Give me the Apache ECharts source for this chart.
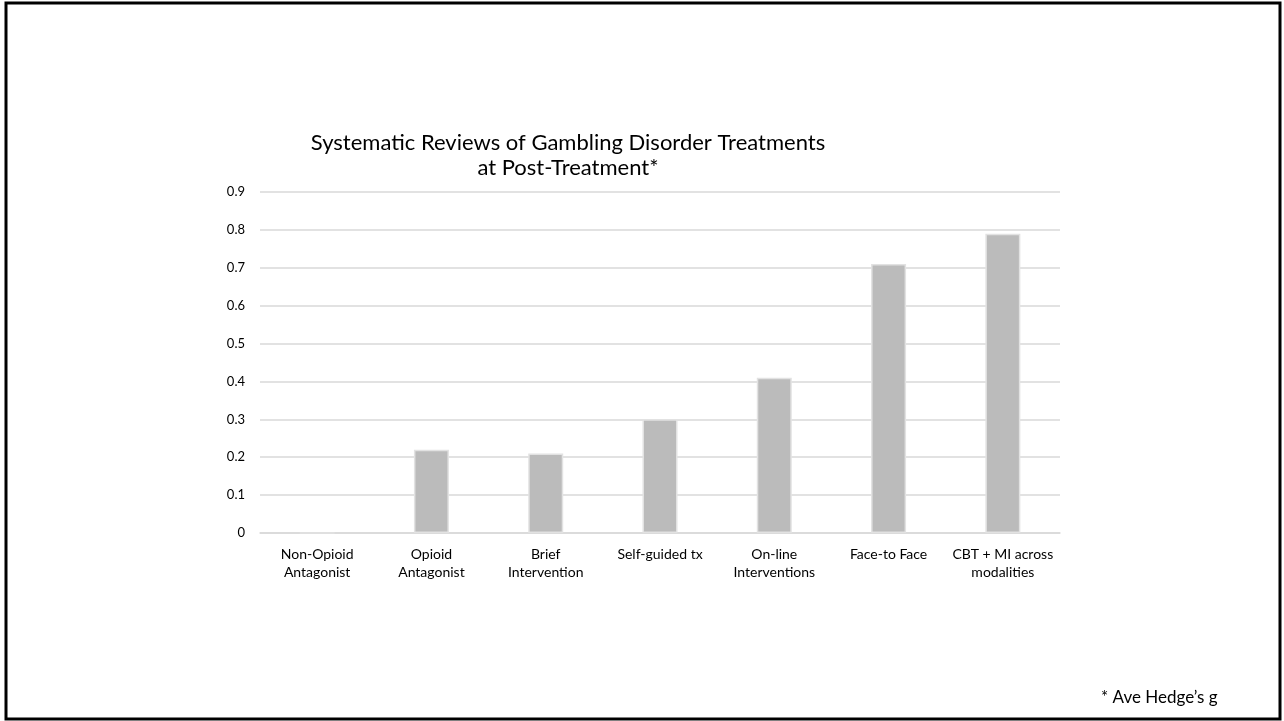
<!DOCTYPE html>
<html>
<head>
<meta charset="utf-8">
<style>
  html, body { margin: 0; padding: 0; background: #ffffff; }
  #chart { width: 1284px; height: 721px; }
</style>
<script src="https://cdn.jsdelivr.net/npm/echarts@6/dist/echarts.min.js"></script>
</head>
<body>
<div id="chart"></div>
<script>
// Treatment categories (x axis)
const categories = [
  'Non-Opioid\nAntagonist',
  'Opioid\nAntagonist',
  'Brief\nIntervention',
  'Self-guided tx',
  'On-line\nInterventions',
  'Face-to Face',
  'CBT + MI across\nmodalities'
];

// Average Hedge's g at post-treatment
const effectSizes = [0, 0.22, 0.21, 0.30, 0.41, 0.71, 0.79];

// Y axis range
const yMin = 0;
const yMax = 0.9;
const yStep = 0.1;

const titleLines = ['Systematic Reviews of Gambling Disorder Treatments', 'at Post-Treatment*'];
const footnote = '* Ave Hedge\u2019s g';

const FONT = 'Lato, "Open Sans", sans-serif';

const chart = echarts.init(document.getElementById('chart'), null, { renderer: 'canvas' });

chart.setOption({
  backgroundColor: '#ffffff',
  animation: false,
  title: [
    {
      text: titleLines.join('\n'),
      left: 563,
      top: 125,
      textAlign: 'center',
      textStyle: {
        fontFamily: FONT,
        fontSize: 22,
        fontWeight: 'normal',
        color: '#000000',
        lineHeight: 25,
        align: 'center'
      }
    },
    {
      text: footnote,
      left: 1096,
      top: 684,
      textStyle: {
        fontFamily: FONT,
        fontSize: 17,
        fontWeight: 'normal',
        color: '#000000'
      }
    }
  ],
  graphic: [
    {
      type: 'rect',
      shape: { x: 6, y: 3, width: 1274, height: 716 },
      style: { fill: 'none', stroke: '#000000', lineWidth: 3 },
      silent: true
    }
  ],
  grid: {
    left: 260,
    right: 224,
    top: 192,
    bottom: 188,
    containLabel: false
  },
  xAxis: {
    type: 'category',
    data: categories,
    axisLine: { show: true, lineStyle: { color: '#d9d9d9', width: 1.5 } },
    axisTick: { show: false },
    axisLabel: {
      interval: 0,
      fontFamily: FONT,
      fontSize: 14,
      color: '#000000',
      lineHeight: 18,
      margin: 12
    }
  },
  yAxis: {
    type: 'value',
    min: yMin,
    max: yMax,
    interval: yStep,
    axisLine: { show: false },
    axisTick: { show: false },
    splitLine: { lineStyle: { color: '#d9d9d9', width: 1.5 } },
    axisLabel: {
      fontFamily: FONT,
      fontSize: 13,
      color: '#000000',
      margin: 15,
      formatter: function (v) { return String(Math.round(v * 10) / 10); }
    }
  },
  series: [
    {
      type: 'bar',
      data: effectSizes,
      barWidth: 35,
      itemStyle: {
        color: '#bbbbbb',
        borderColor: '#e2e2e2',
        borderWidth: 1.5
      }
    }
  ]
});
</script>
</body>
</html>
